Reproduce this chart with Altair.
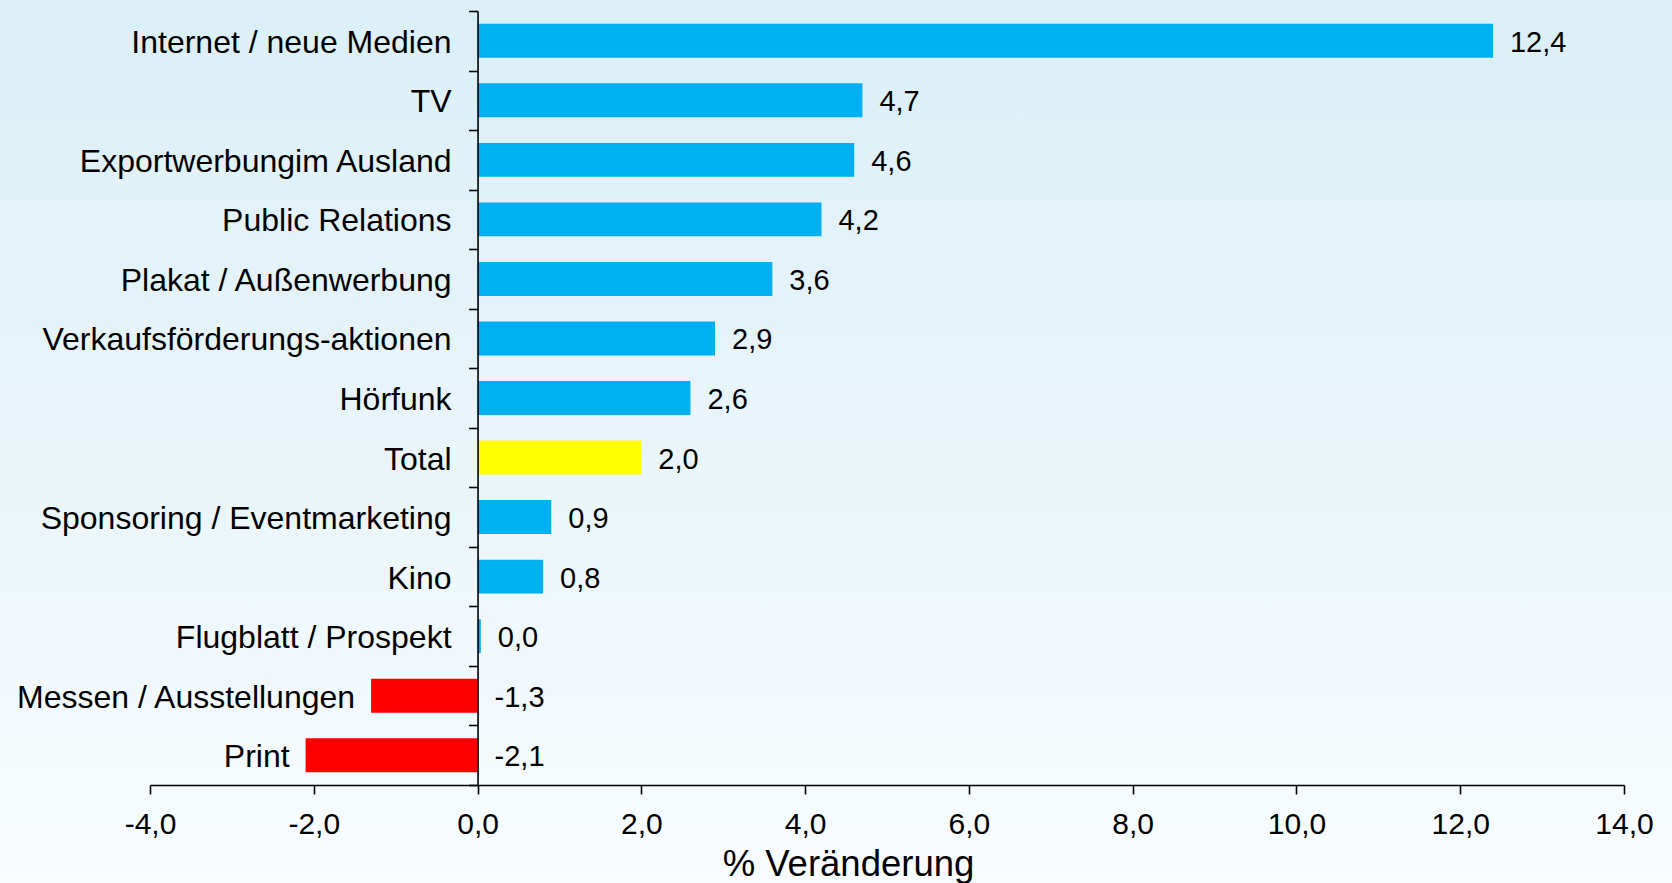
import altair as alt
import pandas as pd

# Werbeformen und prozentuale Veränderung
categories = [
    "Internet / neue Medien",
    "TV",
    "Exportwerbungim Ausland",
    "Public Relations",
    "Plakat / Außenwerbung",
    "Verkaufsförderungs-aktionen",
    "Hörfunk",
    "Total",
    "Sponsoring / Eventmarketing",
    "Kino",
    "Flugblatt / Prospekt",
    "Messen / Ausstellungen",
    "Print",
]
changes = [12.4, 4.7, 4.6, 4.2, 3.6, 2.9, 2.6, 2.0, 0.9, 0.8, 0.04, -1.3, -2.1]
x_ticks = [-4, -2, 0, 2, 4, 6, 8, 10, 12, 14]

df = pd.DataFrame({"kategorie": categories, "veraenderung": changes})

# plot area and surrounding padding (autosize none -> page = plot + padding)
W, H = 1474, 774
PAD = {"left": 150, "top": 11, "right": 48, "bottom": 98}
X_MIN, X_MAX = x_ticks[0], x_ticks[-1]
zero_px = (0 - X_MIN) / (X_MAX - X_MIN) * W

FONT = "Liberation Sans"
BLUE, YELLOW, RED = "#00B0F0", "#FFFF00", "#FF0000"


def de_number(expr):
    # one decimal, comma as decimal separator, plain hyphen for negatives
    return f"({expr} < 0 ? '-' : '') + replace(format(abs({expr}), '.1f'), '.', ',')"


x_scale = alt.Scale(domain=[X_MIN, X_MAX], nice=False, zero=False)
y_scale = alt.Scale(paddingInner=0, paddingOuter=0)
y_sort = categories

x_axis = alt.Axis(
    values=x_ticks,
    labelExpr=de_number("datum.value"),
    labelFont=FONT,
    labelFontSize=30,
    labelColor="black",
    labelPadding=15,
    labelFlush=False,
    tickSize=9,
    tickWidth=1.6,
    tickColor="black",
    domainColor="black",
    domainWidth=1.6,
    grid=False,
    title="% Veränderung",
    titleFont=FONT,
    titleFontSize=36.5,
    titleFontWeight="normal",
    titleColor="black",
    titleX=698,
    titleY=90,
    titleAlign="center",
    titleBaseline="alphabetic",
    zindex=2,
)

# category axis sits on the zero line; ticks mark the band boundaries
y_axis = alt.Axis(
    title=None,
    labels=False,
    tickBand="extent",
    offset=-zero_px,
    tickSize=9,
    tickWidth=1.6,
    tickColor="black",
    domainColor="black",
    domainWidth=1.6,
    grid=False,
    zindex=2,
)

base = alt.Chart(df).transform_calculate(
    gruppe="datum.kategorie == 'Total' ? 'Total' : (datum.veraenderung < 0 ? 'negativ' : 'positiv')",
    wert_text=de_number("datum.veraenderung"),
    x_name="min(datum.veraenderung, 0)",
    x_wert="max(datum.veraenderung, 0)",
)

# page background: soft vertical gradient from light blue to almost white
background = alt.Chart(pd.DataFrame({"bg": [0]})).mark_rect(
    color=alt.LinearGradient(
        gradient="linear",
        x1=0, x2=0, y1=0, y2=1,
        stops=[
            alt.GradientStop(color="#dbeff7", offset=0),
            alt.GradientStop(color="#e9f5fa", offset=0.5),
            alt.GradientStop(color="#f8fcfe", offset=1),
        ],
    )
).encode(
    x=alt.value(-PAD["left"]),
    x2=alt.value(W + PAD["right"]),
    y=alt.value(-PAD["top"]),
    y2=alt.value(H + PAD["bottom"]),
)

bars = base.mark_bar(height={"band": 0.57}).encode(
    x=alt.X("veraenderung:Q", scale=x_scale, axis=x_axis),
    y=alt.Y("kategorie:N", sort=y_sort, scale=y_scale, axis=y_axis),
    color=alt.Color(
        "gruppe:N",
        scale=alt.Scale(domain=["positiv", "Total", "negativ"], range=[BLUE, YELLOW, RED]),
        legend=None,
    ),
)

text_style = dict(baseline="middle", font=FONT, color="black")

names_pos = base.transform_filter("datum.veraenderung >= 0").mark_text(
    align="right", dx=-26, dy=2, fontSize=32, **text_style
).encode(
    x=alt.X("x_name:Q", scale=x_scale, axis=x_axis),
    y=alt.Y("kategorie:N", sort=y_sort, scale=y_scale, axis=y_axis),
    text="kategorie:N",
)

names_neg = base.transform_filter("datum.veraenderung < 0").mark_text(
    align="right", dx=-16, dy=2, fontSize=32, **text_style
).encode(
    x=alt.X("x_name:Q", scale=x_scale, axis=x_axis),
    y=alt.Y("kategorie:N", sort=y_sort, scale=y_scale, axis=y_axis),
    text="kategorie:N",
)

values = base.mark_text(align="left", dx=17, dy=2, fontSize=29, **text_style).encode(
    x=alt.X("x_wert:Q", scale=x_scale, axis=x_axis),
    y=alt.Y("kategorie:N", sort=y_sort, scale=y_scale, axis=y_axis),
    text="wert_text:N",
)

chart = (
    alt.layer(background, bars, names_pos, names_neg, values)
    .properties(
        width=W,
        height=H,
        padding=PAD,
        autosize=alt.AutoSizeParams(type="none"),
        background="#eef7fb",
    )
    .configure_view(stroke=None)
)

chart.save("out.html", embed_options={"renderer": "svg", "actions": False})
